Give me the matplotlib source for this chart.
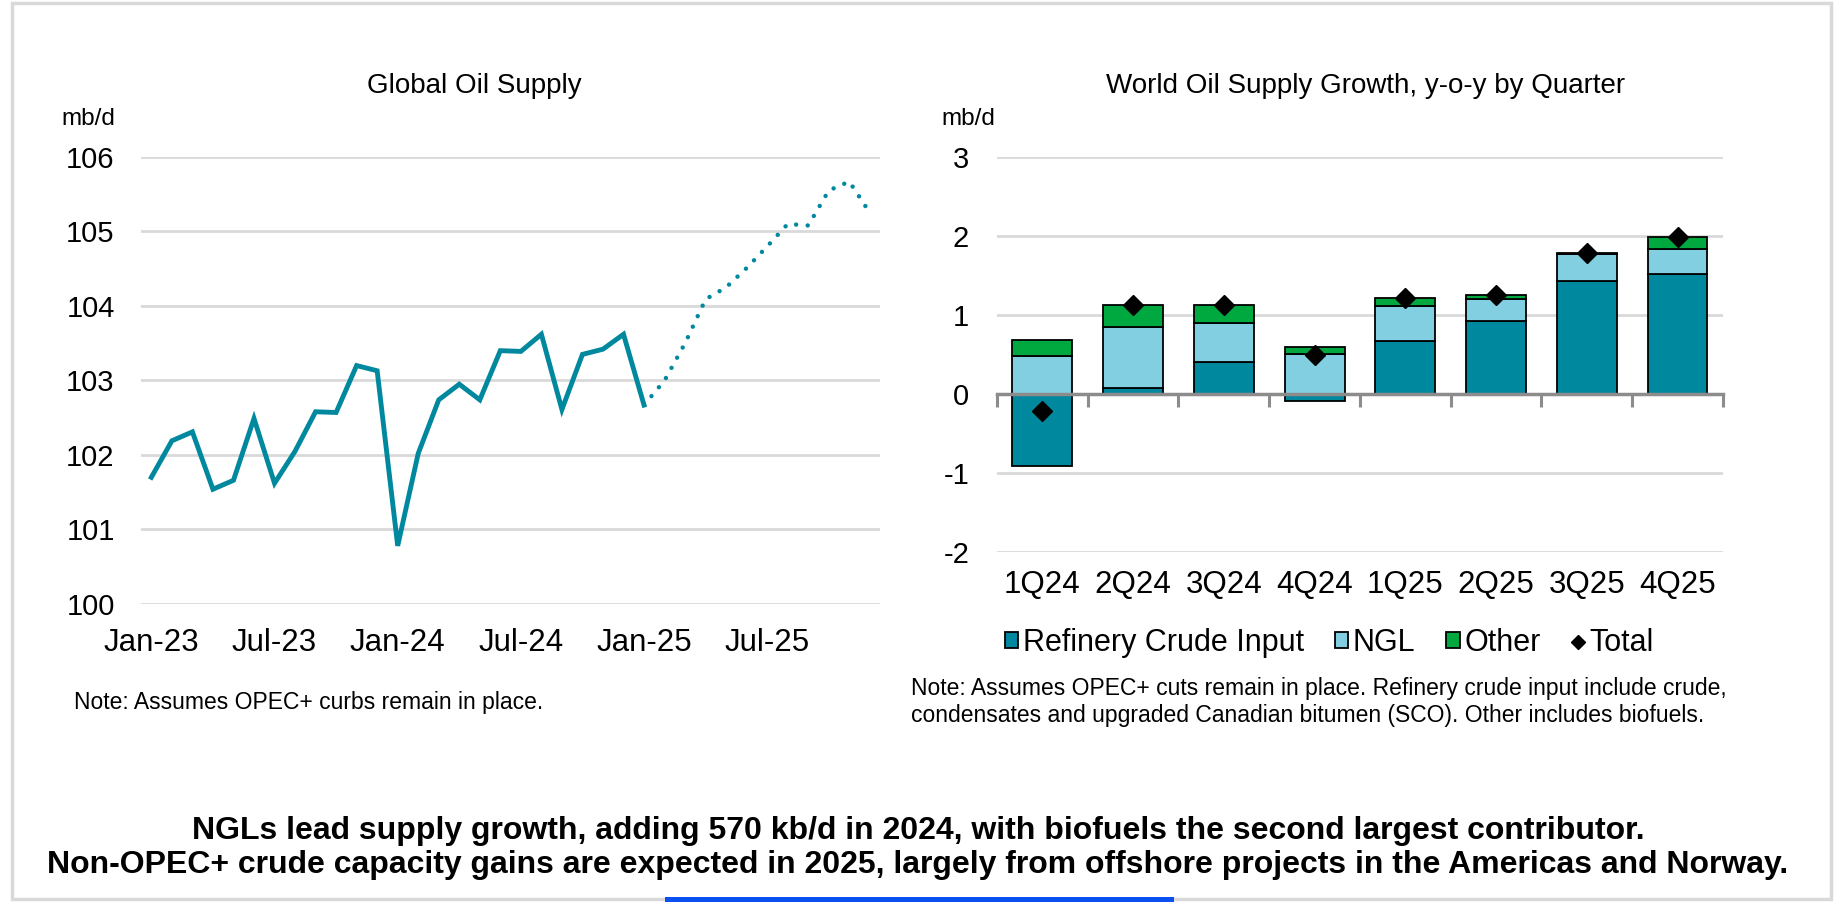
import numpy as np
import pandas as pd
import matplotlib
matplotlib.use("Agg")
import matplotlib.pyplot as plt
from matplotlib.lines import Line2D
from matplotlib.patches import Rectangle

plt.rcParams['font.family'] = ['Liberation Sans', 'DejaVu Sans']

# left chart: global oil supply, mb/d, monthly from Jan-23
months = pd.date_range('2023-01-01', '2025-12-01', freq='MS')
supply_hist = [101.70, 102.19, 102.31, 101.54, 101.66, 102.49, 101.62, 102.05,
               102.58, 102.57, 103.20, 103.13, 100.78, 102.02, 102.74, 102.95,
               102.74, 103.40, 103.39, 103.62, 102.61, 103.35, 103.42, 103.62,
               102.67]
supply_fcst = [102.67, 103.00, 103.50, 104.09, 104.25, 104.51, 104.80, 105.10,
               105.08, 105.55, 105.67, 105.25]
month_ticks = ['Jan-23', 'Jul-23', 'Jan-24', 'Jul-24', 'Jan-25', 'Jul-25']

# right chart: y-o-y supply growth by quarter, mb/d
quarters = ['1Q24', '2Q24', '3Q24', '4Q24', '1Q25', '2Q25', '3Q25', '4Q25']
crude = [-0.91, 0.07, 0.40, -0.09, 0.665, 0.92, 1.43, 1.52]
ngl = [0.48, 0.78, 0.50, 0.51, 0.45, 0.28, 0.34, 0.31]
other = [0.21, 0.28, 0.23, 0.09, 0.095, 0.05, 0.01, 0.16]
total = [-0.22, 1.13, 1.13, 0.50, 1.21, 1.25, 1.78, 1.99]

teal = '#00889E'
light = '#82CFE1'
green = '#00A940'
grid_c = '#D9D9D9'

fig = plt.figure(figsize=(18.37, 9.02), dpi=100)

# ---- left panel
ax1 = fig.add_axes([0.0768, 0.3304, 0.4023, 0.4956])
xh = np.arange(len(supply_hist))
xf = np.arange(len(supply_hist) - 1, len(supply_hist) - 1 + len(supply_fcst))
ax1.plot(xh, supply_hist, color=teal, lw=3.5, solid_joinstyle='miter', zorder=3)
ax1.plot(xf, supply_fcst, color=teal, lw=3.2, linestyle=(0, (0.01, 2.6)),
         dash_capstyle='round', zorder=3)
ax1.set_xlim(-0.5, len(months) - 0.5)
ax1.set_ylim(100, 106)
ax1.set_yticks(range(100, 107))
ax1.set_xticks(np.arange(0, len(months), 6))
ax1.set_xticklabels(month_ticks)
ax1.grid(axis='y', color=grid_c, lw=2)
ax1.set_axisbelow(True)
for s in ax1.spines.values():
    s.set_visible(False)
ax1.tick_params(axis='y', length=0, pad=19, labelsize=21)
ax1.tick_params(axis='x', length=0, pad=17, labelsize=22.5)

# ---- right panel
ax2 = fig.add_axes([0.5427, 0.388, 0.3952, 0.4379])
x = np.arange(len(quarters))
w = 0.66
crude_a = np.array(crude)
ngl_a = np.array(ngl)
other_a = np.array(other)
ngl_base = np.where(crude_a > 0, crude_a, 0)
b1 = ax2.bar(x, crude_a, w, color=teal, edgecolor='black', lw=1.3, zorder=2)
b2 = ax2.bar(x, ngl_a, w, bottom=ngl_base, color=light, edgecolor='black', lw=1.3, zorder=2)
b3 = ax2.bar(x, other_a, w, bottom=ngl_base + ngl_a, color=green, edgecolor='black', lw=1.3, zorder=2)
ax2.plot(x, total, linestyle='none', marker='D', ms=10.5, color='black', zorder=6)
ax2.set_xlim(-0.5, len(quarters) - 0.5)
ax2.set_ylim(-2, 3)
ax2.set_yticks(range(-2, 4))
ax2.set_yticklabels([str(v) for v in range(-2, 4)])
ax2.set_xticks(x)
ax2.set_xticklabels(quarters)
ax2.grid(axis='y', color=grid_c, lw=2)
ax2.set_axisbelow(True)
for s in ax2.spines.values():
    s.set_visible(False)
ax2.tick_params(axis='y', length=0, pad=20, labelsize=21)
ax2.tick_params(axis='x', length=0, pad=13, labelsize=22.5)

zero = ax2.secondary_xaxis(0.4)
zero.set_xticks(np.arange(-0.5, len(quarters), 1))
zero.tick_params(axis='x', length=9, width=2.2, color='#8C8C8C', labelbottom=False)
zero.spines['bottom'].set_color('#8C8C8C')
zero.spines['bottom'].set_linewidth(2.5)
zero.set_zorder(5)

handles = [Rectangle((0, 0), 1, 1, facecolor=teal, edgecolor='black', lw=1.3),
           Rectangle((0, 0), 1, 1, facecolor=light, edgecolor='black', lw=1.3),
           Rectangle((0, 0), 1, 1, facecolor=green, edgecolor='black', lw=1.3),
           Line2D([], [], linestyle='none', marker='D', ms=7, color='black')]
fig.legend(handles, ['Refinery Crude Input', 'NGL', 'Other', 'Total'],
           loc='center', bbox_to_anchor=(0.7236, 0.2870), ncol=4, frameon=False,
           fontsize=22, handlelength=0.45, handleheight=0.45, handletextpad=0.15,
           columnspacing=1.0)

# ---- texts
fig.text(474 / 1837, 1 - 86 / 902, 'Global Oil Supply', ha='center', va='center', fontsize=20)
fig.text(1366 / 1837, 1 - 86 / 902, 'World Oil Supply Growth, y-o-y by Quarter',
         ha='center', va='center', fontsize=20)
fig.text(61 / 1837, 1 - 119 / 902, 'mb/d', ha='left', va='center', fontsize=17.5)
fig.text(941 / 1837, 1 - 119 / 902, 'mb/d', ha='left', va='center', fontsize=17.5)
fig.text(74 / 1837, 1 - 703 / 902, 'Note: Assumes OPEC+ curbs remain in place.',
         ha='left', va='center', fontsize=16.5)
fig.text(911 / 1837, 1 - 702 / 902,
         'Note: Assumes OPEC+ cuts remain in place. Refinery crude input include crude,\n'
         'condensates and upgraded Canadian bitumen (SCO). Other includes biofuels.',
         ha='left', va='center', fontsize=16.5, linespacing=1.2)
fig.text(918 / 1837, 1 - 848 / 902,
         'NGLs lead supply growth, adding 570 kb/d in 2024, with biofuels the second largest contributor.\n'
         'Non-OPEC+ crude capacity gains are expected in 2025, largely from offshore projects in the Americas and Norway.',
         ha='center', va='center', fontsize=23, fontweight='bold', linespacing=1.2)

# frame and blue accent bar
fig.add_artist(Rectangle((12 / 1837, 3 / 902), 1819 / 1837, 896 / 902,
                         transform=fig.transFigure, fill=False, edgecolor='#D9D9D9', lw=2.5))
fig.add_artist(Rectangle((665 / 1837, 0), 509 / 1837, 5 / 902,
                         transform=fig.transFigure, facecolor='#0A4FF0', edgecolor='none'))

fig.savefig('out.png', dpi=100)
